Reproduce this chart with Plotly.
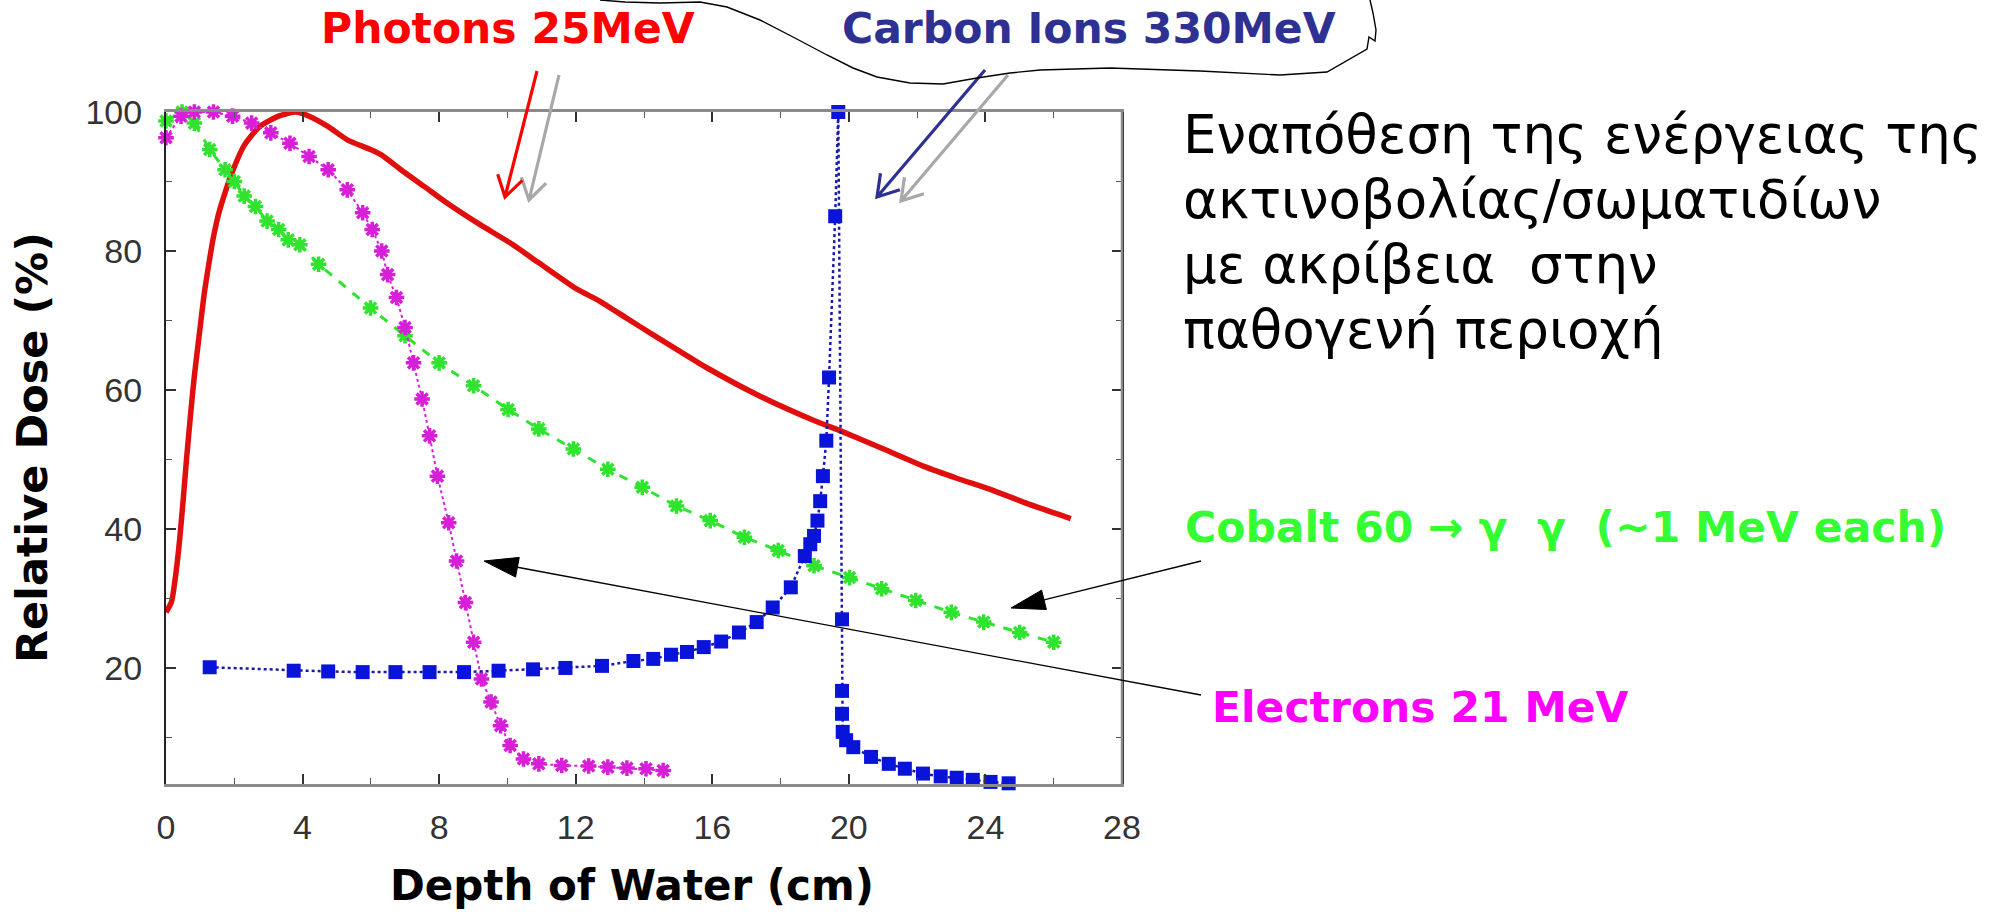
import math
import plotly.graph_objects as go

# ---------------- data ----------------
photon_x = [0.0, 0.16, 0.3, 0.4, 0.5, 0.6, 0.72, 0.83, 1.0, 1.11, 1.25, 1.39, 1.55, 1.73, 1.95,
            2.29, 2.74, 3.3, 3.8, 4.19, 4.75, 5.31, 5.99, 6.32, 6.88, 7.56, 8.23, 9.13, 10.13,
            10.92, 12.04, 12.7, 13.5, 14.28, 15.04, 15.84, 17.4, 18.98, 19.81, 21.07, 22.2,
            23.16, 24.2, 25.25, 26.5]
photon_y = [28.0, 29.5, 34.0, 38.5, 44.0, 50.0, 56.5, 62.0, 69.0, 73.5, 78.0, 82.0, 85.5, 88.4, 91.5,
            95.2, 97.9, 99.4, 100.0, 99.4, 97.9, 96.0, 94.6, 93.8, 91.7, 89.3, 86.9, 84.0, 81.0,
            78.3, 74.5, 72.8, 70.3, 67.9, 65.6, 63.2, 59.1, 55.6, 54.0, 51.4, 49.0,
            47.3, 45.6, 43.6, 41.5]

electron_x = [0.0, 0.44, 0.83, 1.39, 1.95, 2.51, 3.07, 3.63, 4.19, 4.75, 5.31, 5.76, 6.04, 6.32,
              6.49, 6.75, 7.0, 7.25, 7.5, 7.72, 7.95, 8.28, 8.51, 8.77, 9.01, 9.24, 9.52, 9.8,
              10.08, 10.47, 10.92, 11.59, 12.38, 12.94, 13.5, 14.06, 14.56]
electron_y = [96.3, 99.4, 100.0, 100.0, 99.4, 98.4, 97.0, 95.5, 93.6, 91.7, 88.8, 85.5, 83.1, 80.0,
              76.6, 73.3, 69.0, 63.9, 58.7, 53.4, 47.6, 40.9, 35.4, 29.4, 23.7, 18.4, 15.1, 11.7,
              8.85, 6.9, 6.2, 5.97, 5.88, 5.73, 5.59, 5.49, 5.25]

cobalt_x = [0.0, 0.47, 0.83, 1.28, 1.73, 2.0, 2.29, 2.62, 2.96, 3.3, 3.58, 3.92, 4.47, 5.99, 7.0,
            8.0, 9.01, 10.02, 10.92, 11.93, 12.94, 13.95, 14.95, 15.94, 16.94, 17.93, 18.98,
            20.02, 20.96, 21.96, 23.0, 23.95, 25.0, 26.0]
cobalt_y = [98.7, 100.0, 98.4, 94.6, 91.7, 90.0, 87.9, 86.4, 84.3, 83.1, 81.6, 80.9, 78.1, 71.8, 67.8,
            63.9, 60.6, 57.2, 54.4, 51.5, 48.6, 46.0, 43.3, 41.2, 38.8, 36.9, 34.7,
            33.0, 31.4, 29.7, 28.0, 26.6, 25.1, 23.7]

carbon_x = [1.28, 3.74, 4.75, 5.76, 6.72, 7.72, 8.73, 9.74, 10.75, 11.7, 12.77, 13.69, 14.27, 14.79,
            15.26, 15.75, 16.26, 16.78, 17.3, 17.77, 18.3, 18.71, 18.87, 18.98, 19.08, 19.16,
            19.24, 19.34, 19.42, 19.6, 19.69, 19.8, 19.8, 19.8, 19.82, 19.92, 20.13, 20.65, 21.17,
            21.64, 22.17, 22.69, 23.16, 23.63, 24.15, 24.68]
carbon_y = [20.1, 19.6, 19.5, 19.4, 19.4, 19.4, 19.4, 19.6, 19.8, 20.0, 20.3, 21.0, 21.3, 21.9,
            22.3, 23.0, 23.8, 25.1, 26.6, 28.7, 31.6, 36.1, 37.8, 39.0, 41.2, 44.0,
            47.6, 52.7, 61.8, 85.0, 100.0, 27.0, 16.7, 13.4, 10.8, 9.6, 8.6, 7.2, 6.2,
            5.5, 4.8, 4.4, 4.2, 3.9, 3.6, 3.4]

x_ticks = [0, 4, 8, 12, 16, 20, 24, 28]
y_ticks = [20, 40, 60, 80, 100]

# ---------------- layout geometry ----------------
W, H = 1999, 915
L, R, T, B = 166, 877, 112, 131
PW, PH = W - L - R, H - T - B


def px(X):
    return (X - L) / PW


def py(Y):
    return (H - B - Y) / PH


def path(points):
    return "M " + " L ".join(f"{px(X):.5f},{py(Y):.5f}" for X, Y in points)


fig = go.Figure()

fig.add_trace(go.Scatter(x=photon_x, y=photon_y, mode="lines",
                         line=dict(color="#E10E0E", width=5.5, shape="spline", smoothing=0.6),
                         cliponaxis=False, name="Photons"))
fig.add_trace(go.Scatter(x=cobalt_x, y=cobalt_y, mode="lines+markers",
                         line=dict(color="#2FE32F", width=3, dash="dash"),
                         marker=dict(symbol="asterisk-open", size=13, line=dict(color="#2FE32F", width=3.5)),
                         cliponaxis=False, name="Cobalt"))
fig.add_trace(go.Scatter(x=electron_x, y=electron_y, mode="lines+markers",
                         line=dict(color="#D81FD8", width=2, dash="dot"),
                         marker=dict(symbol="asterisk-open", size=13, line=dict(color="#F01EF0", width=3.5)),
                         cliponaxis=False, name="Electrons"))
fig.add_trace(go.Scatter(x=carbon_x, y=carbon_y, mode="lines+markers",
                         line=dict(color="#1A1AA8", width=2.5, dash="dot"),
                         marker=dict(symbol="square", size=14, color="#0A14D8"),
                         cliponaxis=False, name="Carbon"))

tickfont = dict(family="Liberation Sans, Arial", size=34, color="#333333")
fig.update_xaxes(range=[0, 28], tickvals=x_ticks, ticktext=[str(v) for v in x_ticks],
                 ticks="inside", ticklen=10, tickwidth=1.6, tickcolor="#333333",
                 showline=True, linecolor="#8a8a8a", linewidth=2.5, mirror="ticks",
                 showgrid=False, zeroline=False, tickfont=tickfont, ticklabelstandoff=11,
                 minor=dict(ticks="inside", ticklen=6, tickwidth=1.2, tickcolor="#555555",
                            dtick=2, tick0=0, showgrid=False))
fig.update_yaxes(range=[3.3, 100], tickvals=y_ticks, ticktext=[str(v) for v in y_ticks],
                 ticks="inside", ticklen=10, tickwidth=1.6, tickcolor="#333333",
                 showline=True, linecolor="#222222", linewidth=2, mirror="ticks",
                 showgrid=False, zeroline=False, tickfont=tickfont, ticklabelstandoff=15,
                 minor=dict(ticks="inside", ticklen=6, tickwidth=1.2, tickcolor="#555555",
                            dtick=10, tick0=0, showgrid=False))

shapes = []
# grey right frame line
shapes.append(dict(type="line", xref="paper", yref="paper", x0=1, x1=1, y0=0, y1=1,
                   line=dict(color="#8a8a8a", width=2.5), layer="above"))


def open_arrow(start, tip, color, width=3.2, head=24, ang=32):
    dx, dy = start[0] - tip[0], start[1] - tip[1]
    a = math.atan2(dy, dx)
    arms = []
    for s in (-1, 1):
        b = a + s * math.radians(ang)
        arms.append((tip[0] + head * math.cos(b), tip[1] + head * math.sin(b)))
    p = path([start, tip]) + " " + path([arms[0], tip, arms[1]])
    return dict(type="path", xref="paper", yref="paper", path=p,
                line=dict(color=color, width=width), layer="above")


def filled_arrow(start, tip, length=34, half=10):
    dx, dy = start[0] - tip[0], start[1] - tip[1]
    n = math.hypot(dx, dy)
    ux, uy = dx / n, dy / n
    bx, by = tip[0] + ux * length, tip[1] + uy * length
    p1 = (bx - uy * half, by + ux * half)
    p2 = (bx + uy * half, by - ux * half)
    line = dict(type="path", xref="paper", yref="paper", path=path([start, (bx, by)]),
                line=dict(color="black", width=1.3), layer="above")
    headp = dict(type="path", xref="paper", yref="paper", path=path([tip, p1, p2]) + " Z",
                 fillcolor="black", line=dict(color="black", width=1), layer="above")
    return [line, headp]


# shadow (grey) arrows first, then coloured ones
shapes.append(open_arrow((559, 75), (529, 200), "#A8A8A8"))
shapes.append(open_arrow((537, 71), (505, 197), "#FF0000"))
shapes.append(open_arrow((1008, 75), (901, 201), "#A8A8A8"))
shapes.append(open_arrow((985, 70), (877, 197), "#2E3192"))
shapes += filled_arrow((1201, 561), (1011, 608))
shapes += filled_arrow((1201, 695), (484, 561))

# cloud callout outline
cloud = [(600, 0), (625, 2), (660, 3), (700, 2), (727, 7), (760, 20), (793, 37), (827, 55),
         (853, 68), (877, 77), (910, 83), (943, 84), (977, 78), (1010, 73), (1040, 70),
         (1110, 68), (1200, 71), (1280, 75), (1327, 72), (1367, 49), (1369, 37), (1375, 41),
         (1376, 30), (1373, 13), (1370, 0)]
shapes.append(dict(type="path", xref="paper", yref="paper", path=path(cloud),
                   line=dict(color="black", width=1.4), layer="above"))

fig.update_layout(shapes=shapes)

bold = "DejaVu Sans"
ann = []


def text(X, Y, s, size, color, xanchor="center", family=bold, angle=0):
    ann.append(dict(x=px(X), y=py(Y), xref="paper", yref="paper", text=s, showarrow=False,
                    xanchor=xanchor, yanchor="middle", textangle=angle,
                    font=dict(family=family, size=size, color=color)))


text(508, 28, "<b>Photons 25MeV</b>", 42.5, "#FF0000")
text(1089, 28, "<b>Carbon Ions 330MeV</b>", 42.5, "#2E3192")
text(1183, 527, "<b>Cobalt 60 → γ  γ  (~1 MeV each)</b>", 42.5, "#33FF33", xanchor="left")
text(1210, 707, "<b>Electrons 21 MeV</b>", 42.5, "#FF00FF", xanchor="left")
text(632, 886, "<b>Depth of Water (cm)</b>", 42, "black")
text(32, 448, "<b>Relative Dose (%)</b>", 43, "black", angle=-90)

greek = ["Εναπόθεση της ενέργειας της", "ακτινοβολίας/σωματιδίων",
         "με ακρίβεια  στην", "παθογενή περιοχή"]
for i, line in enumerate(greek):
    text(1181, 134 + i * 65, line, 53, "black", xanchor="left")

fig.update_layout(annotations=ann, width=W, height=H, autosize=False,
                  margin=dict(l=L, r=R, t=T, b=B, pad=0),
                  paper_bgcolor="white", plot_bgcolor="white", showlegend=False)

fig.write_html("out.html")
